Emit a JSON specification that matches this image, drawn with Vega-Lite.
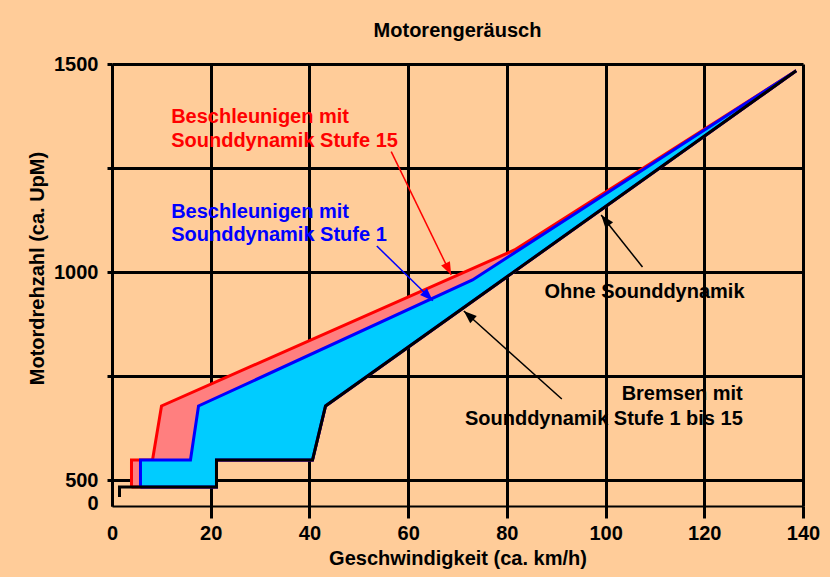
{
  "$schema": "https://vega.github.io/schema/vega-lite/v6.json",
  "width": 691,
  "height": 442,
  "autosize": {"type": "none"},
  "padding": {"left": 112, "top": 64, "right": 27, "bottom": 71},
  "background": "#FFCC99",
  "title": {
    "text": "Motorengeräusch",
    "font": "Liberation Sans",
    "fontSize": 20,
    "fontWeight": "bold",
    "color": "black",
    "anchor": "middle",
    "baseline": "bottom",
    "offset": -7
  },
  "datasets": {
    "red": [
      {"i": 0, "x": 3.95, "y": 483.2},
      {"i": 1, "x": 3.95, "y": 548.1},
      {"i": 2, "x": 8.21, "y": 548.1},
      {"i": 3, "x": 10.03, "y": 677.9},
      {"i": 4, "x": 81.55, "y": 1052.9},
      {"i": 5, "x": 138.62, "y": 1483.9},
      {"i": 6, "x": 43.26, "y": 677.9},
      {"i": 7, "x": 40.62, "y": 548.1},
      {"i": 8, "x": 21.17, "y": 548.1},
      {"i": 9, "x": 21.17, "y": 483.2},
      {"i": 10, "x": 3.95, "y": 483.2}
    ],
    "blue": [
      {"i": 0, "x": 5.77, "y": 483.2},
      {"i": 1, "x": 5.77, "y": 548.1},
      {"i": 2, "x": 15.9, "y": 548.1},
      {"i": 3, "x": 17.53, "y": 677.9},
      {"i": 4, "x": 73.04, "y": 980.8},
      {"i": 5, "x": 138.62, "y": 1483.9},
      {"i": 6, "x": 43.26, "y": 677.9},
      {"i": 7, "x": 40.62, "y": 548.1},
      {"i": 8, "x": 21.17, "y": 548.1},
      {"i": 9, "x": 21.17, "y": 483.2},
      {"i": 10, "x": 5.77, "y": 483.2}
    ],
    "black": [
      {"i": 0, "x": 1.52, "y": 459.1},
      {"i": 1, "x": 1.52, "y": 483.2},
      {"i": 2, "x": 21.17, "y": 483.2},
      {"i": 3, "x": 21.17, "y": 548.1},
      {"i": 4, "x": 40.62, "y": 548.1},
      {"i": 5, "x": 43.26, "y": 677.9},
      {"i": 6, "x": 138.62, "y": 1483.9}
    ],
    "arrows": [
      {"x": 56.57, "y": 1289.2, "x2": 68.72, "y2": 992.8, "c": "#FF0000"},
      {"x": 53.65, "y": 1062.5, "x2": 65.0, "y2": 931.0, "c": "#0000FF"},
      {"x": 107.48, "y": 1012.0, "x2": 99.11, "y2": 1137.0, "c": "black"},
      {"x": 91.13, "y": 694.7, "x2": 71.28, "y2": 906.3, "c": "black"}
    ],
    "heads": [
      {"x": 68.15, "y": 1006.9, "a": 154, "c": "#FF0000"},
      {"x": 64.05, "y": 941.9, "a": 134.3, "c": "#0000FF"},
      {"x": 99.93, "y": 1124.8, "a": 321.5, "c": "black"},
      {"x": 72.26, "y": 895.8, "a": 311.9, "c": "black"}
    ],
    "labelsLeft": [
      {"x": 11.99, "y": 1358.9, "t": "Beschleunigen mit", "c": "#FF0000"},
      {"x": 11.99, "y": 1299.8, "t": "Sounddynamik Stufe 15", "c": "#FF0000"},
      {"x": 11.99, "y": 1129.1, "t": "Beschleunigen mit", "c": "#0000FF"},
      {"x": 11.99, "y": 1075.2, "t": "Sounddynamik Stufe 1", "c": "#0000FF"},
      {"x": 87.63, "y": 936.8, "t": "Ohne Sounddynamik", "c": "black"}
    ],
    "labelsRight": [
      {"x": 127.8, "y": 692.3, "t": "Bremsen mit", "c": "black"},
      {"x": 127.8, "y": 632.2, "t": "Sounddynamik Stufe 1 bis 15", "c": "black"}
    ]
  },
  "encoding": {
    "x": {
      "field": "x",
      "type": "quantitative",
      "scale": {"domain": [0, 140], "nice": false, "zero": false},
      "axis": {
        "values": [0, 20, 40, 60, 80, 100, 120, 140],
        "grid": true,
        "gridColor": "black",
        "gridWidth": 3,
        "gridOpacity": 1,
        "tickColor": {"condition": {"test": "datum.value == 0", "value": "transparent"}, "value": "black"},
        "tickWidth": 3,
        "tickSize": 12,
        "domainColor": "black",
        "domainWidth": 2,
        "labelFont": "Liberation Sans",
        "labelFontWeight": "bold",
        "labelFontSize": 20,
        "labelColor": "black",
        "labelPadding": 5,
        "labelFlush": false,
        "labelOverlap": false,
        "title": "Geschwindigkeit (ca. km/h)",
        "titleFont": "Liberation Sans",
        "titleFontWeight": "bold",
        "titleFontSize": 20,
        "titleColor": "black",
        "titlePadding": 5
      }
    },
    "y": {
      "field": "y",
      "type": "quantitative",
      "scale": {"domain": [437.5, 1500], "nice": false, "zero": false},
      "axis": {
        "values": [443, 500, 750, 1000, 1250, 1500],
        "format": "d",
        "labelExpr": "datum.value == 443 ? '0' : (datum.value % 500 == 0 ? datum.label : '')",
        "grid": true,
        "gridColor": {"condition": {"test": "datum.value == 443", "value": "transparent"}, "value": "black"},
        "gridWidth": 3,
        "gridOpacity": 1,
        "tickColor": {"condition": {"test": "datum.value == 443", "value": "transparent"}, "value": "black"},
        "tickWidth": 3,
        "tickSize": 5,
        "domainColor": "black",
        "domainWidth": 3,
        "labelFont": "Liberation Sans",
        "labelFontWeight": "bold",
        "labelFontSize": 20,
        "labelColor": "black",
        "labelPadding": 9,
        "labelFlush": false,
        "labelOverlap": false,
        "title": "Motordrehzahl (ca. UpM)",
        "titleFont": "Liberation Sans",
        "titleFontWeight": "bold",
        "titleFontSize": 20,
        "titleColor": "black",
        "titleX": -75,
        "titleY": 204,
        "titleAngle": -90,
        "titleAlign": "center",
        "titleBaseline": "middle"
      }
    }
  },
  "layer": [
    {
      "data": {"name": "red"},
      "mark": {"type": "line", "fill": "#FF7F7F", "stroke": "#FF0000", "strokeWidth": 3, "strokeJoin": "miter"},
      "encoding": {"order": {"field": "i", "type": "quantitative"}}
    },
    {
      "data": {"name": "blue"},
      "mark": {"type": "line", "fill": "#00CCFF", "stroke": "#0000FF", "strokeWidth": 3, "strokeJoin": "miter"},
      "encoding": {"order": {"field": "i", "type": "quantitative"}}
    },
    {
      "data": {"name": "black"},
      "mark": {"type": "line", "stroke": "black", "strokeWidth": 3, "strokeJoin": "miter"},
      "encoding": {"order": {"field": "i", "type": "quantitative"}}
    },
    {
      "data": {"name": "arrows"},
      "mark": {"type": "rule", "strokeWidth": 1.5},
      "encoding": {
        "x2": {"field": "x2"},
        "y2": {"field": "y2"},
        "color": {"field": "c", "type": "nominal", "scale": null}
      }
    },
    {
      "data": {"name": "heads"},
      "mark": {"type": "point", "shape": "M0,-1L-0.75,1L0.75,1Z", "filled": true, "size": 169, "opacity": 1, "strokeWidth": 0},
      "encoding": {
        "angle": {"field": "a", "type": "quantitative", "scale": null},
        "color": {"field": "c", "type": "nominal", "scale": null}
      }
    },
    {
      "data": {"name": "labelsLeft"},
      "mark": {"type": "text", "align": "left", "baseline": "alphabetic", "font": "Liberation Sans", "fontWeight": "bold", "fontSize": 20},
      "encoding": {
        "text": {"field": "t"},
        "color": {"field": "c", "type": "nominal", "scale": null}
      }
    },
    {
      "data": {"name": "labelsRight"},
      "mark": {"type": "text", "align": "right", "baseline": "alphabetic", "font": "Liberation Sans", "fontWeight": "bold", "fontSize": 20},
      "encoding": {
        "text": {"field": "t"},
        "color": {"field": "c", "type": "nominal", "scale": null}
      }
    }
  ],
  "config": {
    "view": {"stroke": null}
  }
}
